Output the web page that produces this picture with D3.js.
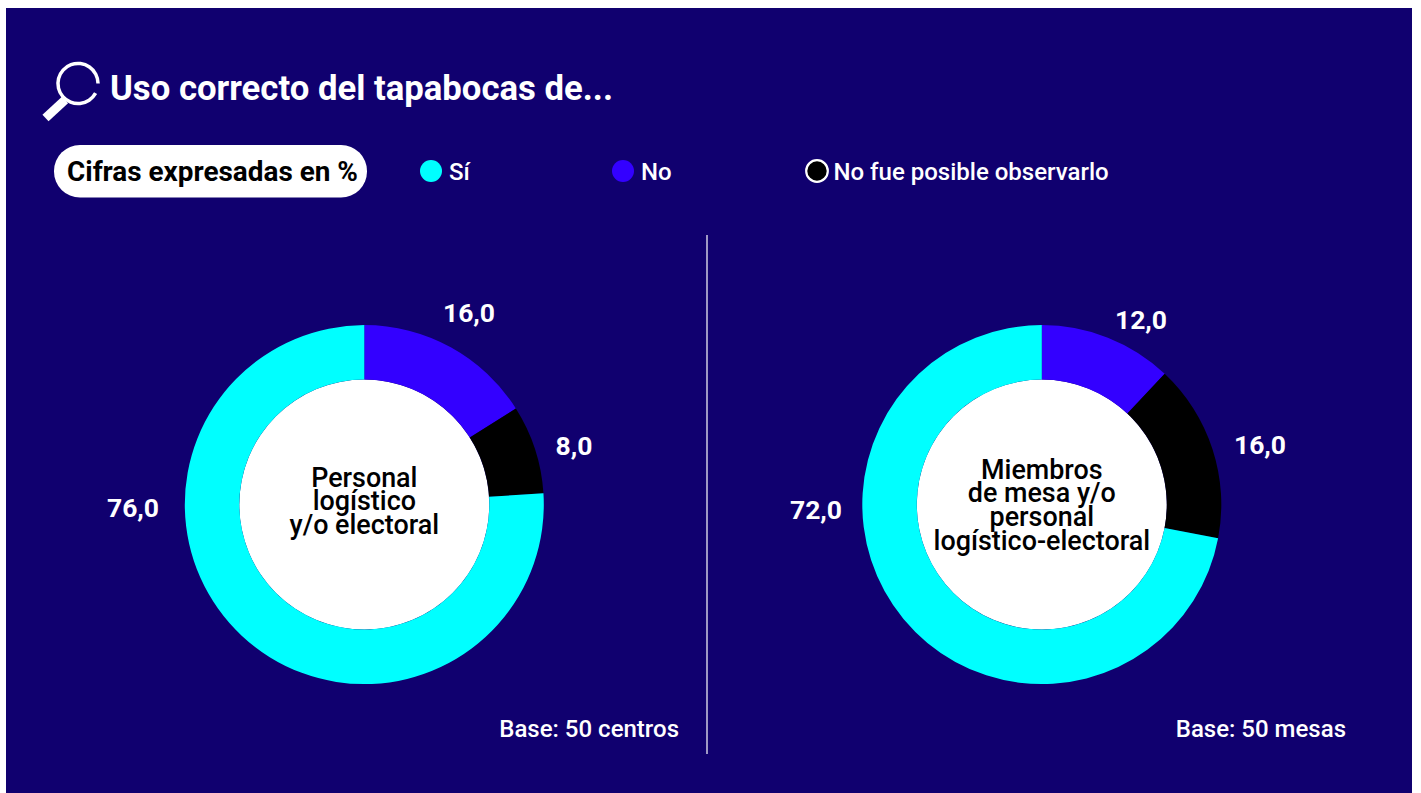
<!DOCTYPE html>
<meta charset="utf-8">
<style>
html, body { margin: 0; padding: 0; background: #fff; }
svg { display: block; }
text { font-family: Roboto, sans-serif; }
</style>
<svg width="1421" height="793"></svg>
<script src="https://d3js.org/d3.v7.min.js"></script>
<script>

var categories = ["No", "No fue posible observarlo", "Sí"];
var legendOrder = ["Sí", "No", "No fue posible observarlo"];
var colors = ["#3300ff", "#000000", "#00ffff"];

var values_left = [16, 8, 76];
var values_right = [12, 16, 72];
var center_left = ["Personal", "logístico", "y/o electoral"];
var center_right = ["Miembros", "de mesa y/o", "personal", "logístico-electoral"];
var base_left = "Base: 50 centros";
var base_right = "Base: 50 mesas";

var svg = d3.select("svg");
var fmt = function(v) { return v.toFixed(1).replace(".", ","); };
var color = d3.scaleOrdinal().domain(categories).range(colors);

// background panel
svg.append("rect")
    .attr("x", 6).attr("y", 8)
    .attr("width", 1406).attr("height", 785)
    .attr("fill", "#10006f");

// magnifier icon, ring has a small gap on the lower right
var icon = svg.append("g");
icon.append("path")
    .attr("d", d3.arc().innerRadius(18.3).outerRadius(21.8)
        .startAngle(0.66 * Math.PI).endAngle(2.5 * Math.PI)())
    .attr("transform", "translate(78,83.5)")
    .attr("fill", "#fff");
icon.append("line")
    .attr("x1", 65).attr("y1", 100).attr("x2", 45.5).attr("y2", 118)
    .attr("stroke", "#fff").attr("stroke-width", 9);

svg.append("text")
    .attr("x", 110).attr("y", 100)
    .attr("fill", "#fff")
    .style("font-size", "34.7px").style("font-weight", 700)
    .text("Uso correcto del tapabocas de...");

// pill
svg.append("rect")
    .attr("x", 54).attr("y", 145)
    .attr("width", 313).attr("height", 52.5)
    .attr("rx", 26)
    .attr("fill", "#fff");
svg.append("text")
    .attr("x", 67).attr("y", 181)
    .attr("fill", "#000")
    .style("font-size", "27.9px").style("font-weight", 700)
    .text("Cifras expresadas en %");

// legend
var legendX = d3.scaleOrdinal().domain(legendOrder).range([431, 623, 817]);
var legendTextX = d3.scaleOrdinal().domain(legendOrder).range([449, 641, 833.5]);
var legend = svg.append("g").selectAll("g").data(legendOrder).enter().append("g");
legend.append("circle")
    .attr("cx", function(d) { return legendX(d); })
    .attr("cy", 171)
    .attr("r", function(d) { return d == "No fue posible observarlo" ? 10.8 : 11; })
    .attr("fill", function(d) { return color(d); })
    .attr("stroke", function(d) { return d == "No fue posible observarlo" ? "#fff" : "none"; })
    .attr("stroke-width", 2.2);
legend.append("text")
    .attr("x", function(d) { return legendTextX(d); })
    .attr("y", 179.5)
    .attr("fill", "#fff")
    .style("font-size", "24px").style("font-weight", 500)
    .text(function(d) { return d; });

// divider
svg.append("line")
    .attr("x1", 707).attr("y1", 235).attr("x2", 707).attr("y2", 754)
    .attr("stroke", "#fff").attr("stroke-width", 1.2);

var outerRadius = 179.5, innerRadius = 125;
var pie = d3.pie().sort(null);
var arc = d3.arc().innerRadius(innerRadius).outerRadius(outerRadius);

function donut(values, cx, cy, lines, lineY, labelPos, base, baseX) {
  var g = svg.append("g").attr("transform", "translate(" + cx + "," + cy + ")");
  g.append("circle").attr("r", innerRadius).attr("fill", "#fff");
  g.selectAll("path").data(pie(values)).enter().append("path")
      .attr("d", arc)
      .attr("fill", function(d, i) { return color(categories[i]); });
  g.selectAll(".value").data(values).enter().append("text")
      .attr("class", "value")
      .attr("x", function(d, i) { return labelPos[i][0] - cx; })
      .attr("y", function(d, i) { return labelPos[i][1] - cy; })
      .attr("text-anchor", "middle")
      .attr("fill", "#fff")
      .style("font-size", "26.5px").style("font-weight", 700)
      .text(fmt);
  g.selectAll(".center").data(lines).enter().append("text")
      .attr("class", "center")
      .attr("y", function(d, i) { return lineY + i * 23.7 - cy; })
      .attr("text-anchor", "middle")
      .attr("fill", "#000")
      .style("font-size", "26.9px").style("font-weight", 500)
      .text(function(d) { return d; });
  svg.append("text")
      .attr("x", baseX).attr("y", 737)
      .attr("text-anchor", "end")
      .attr("fill", "#fff")
      .style("font-size", "24px").style("font-weight", 500)
      .text(base);
}

donut(values_left, 364.3, 504.6, center_left, 486.5,
    [[469, 322], [574, 455], [133, 517]], base_left, 679);
donut(values_right, 1041.8, 504.6, center_right, 478.5,
    [[1141, 328.5], [1260, 454], [816, 519]], base_right, 1346);

</script>
